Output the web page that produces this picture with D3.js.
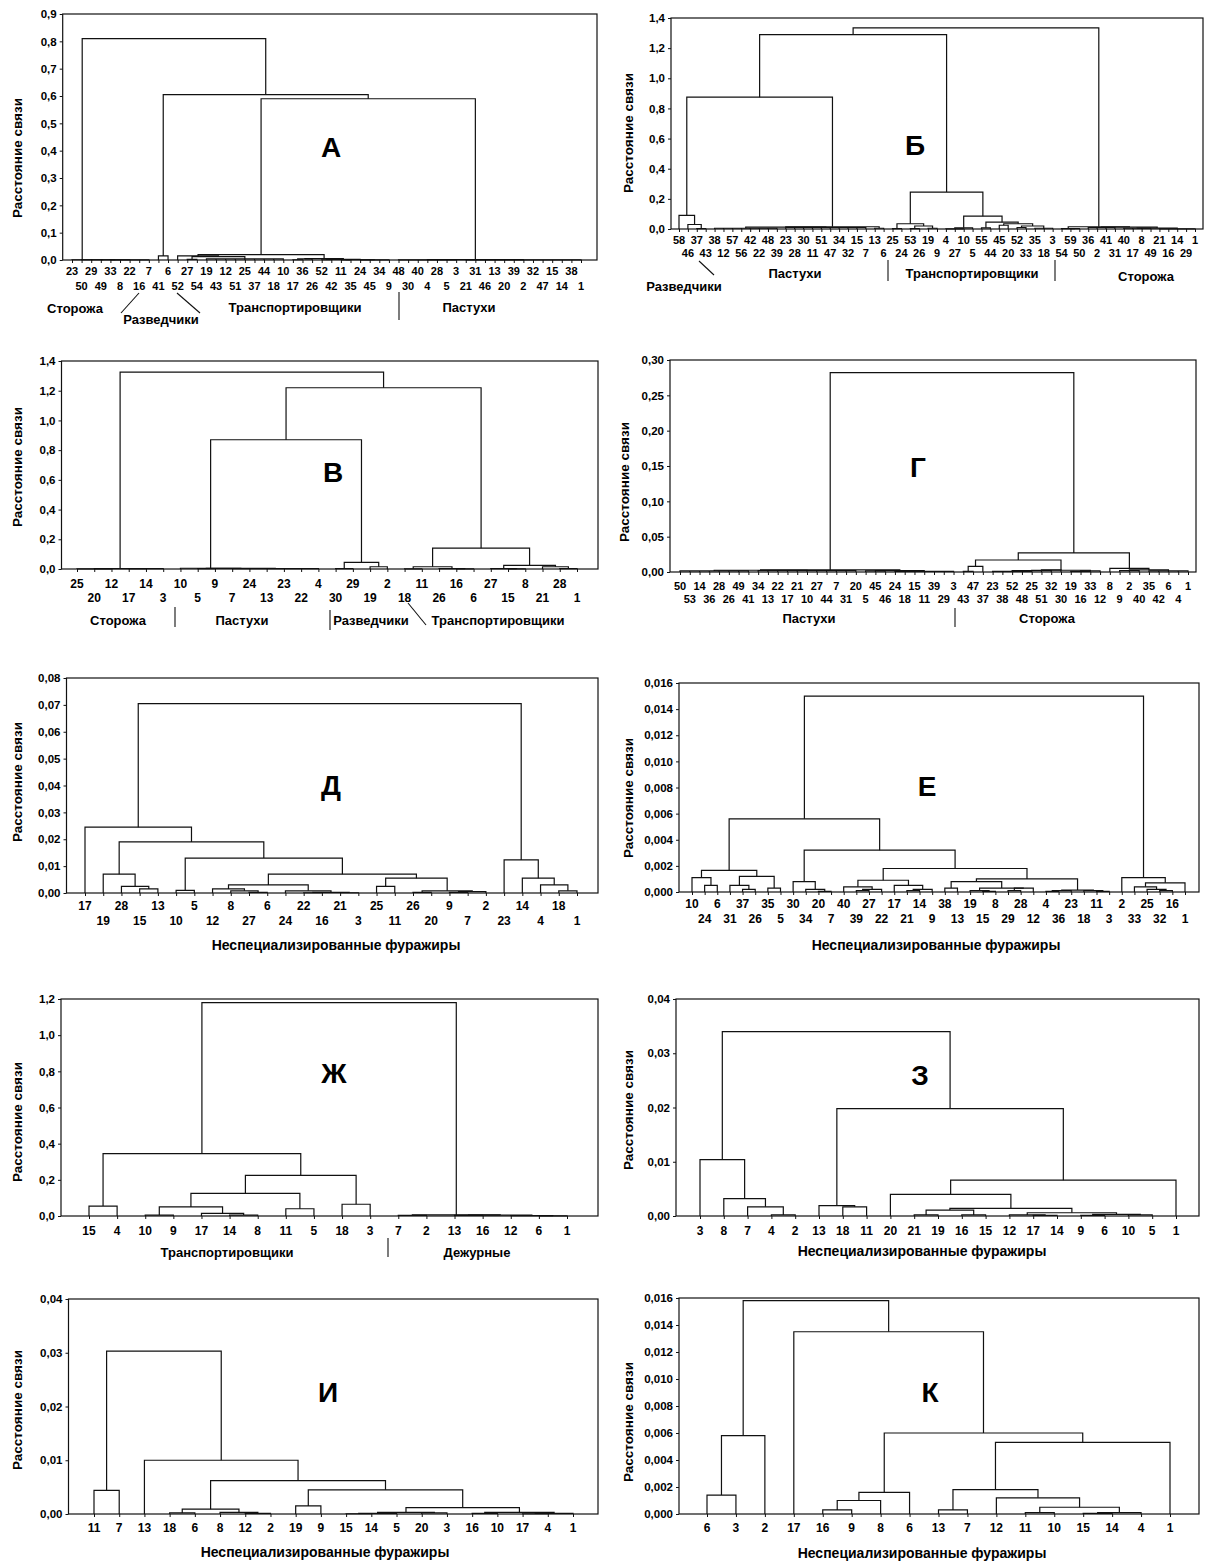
<!DOCTYPE html>
<html>
<head>
<meta charset="utf-8">
<script src="https://cdn.jsdelivr.net/npm/d3@7"></script>
<style>
  body { margin: 0; background: #fff; }
  svg { display: block; font-family: "Liberation Sans", Arial, sans-serif; font-weight: bold; }
</style>
</head>
<body>
<div id="chart"></div>
<script>
// leaf order (as printed under each dendrogram)
const leavesA = [23,50,29,49,33,8,22,16,7,41,6,52,27,54,19,43,12,51,25,37,44,18,10,17,36,26,52,42,11,35,24,45,34,9,48,30,40,4,28,5,3,21,31,46,13,20,39,2,32,47,15,14,38,1];
const leavesB = [58,46,37,43,38,12,57,56,42,22,48,39,23,28,30,11,51,47,34,32,15,7,13,6,25,24,53,26,19,9,4,27,10,5,55,44,45,20,52,33,35,18,3,54,59,50,36,2,41,31,40,17,8,49,21,16,14,29,1];
const leavesV = [25,20,12,17,14,3,10,5,9,7,24,13,23,22,4,30,29,19,2,18,11,26,16,6,27,15,8,21,28,1];
const leavesG = [50,53,14,36,28,26,49,41,34,13,22,17,21,10,27,44,7,31,20,5,45,46,24,18,15,11,39,29,3,43,47,37,23,38,52,48,25,51,32,30,19,16,33,12,8,9,2,40,35,42,6,4,1];
const leavesD = [17,19,28,15,13,10,5,12,8,27,6,24,22,16,21,3,25,11,26,20,9,7,2,23,14,4,18,1];
const leavesE = [10,24,6,31,37,26,35,5,30,34,20,7,40,39,27,22,17,21,14,9,38,13,19,15,8,29,28,12,4,36,23,18,11,3,2,33,25,32,16,1];
const leavesZh = [15,4,10,9,17,14,8,11,5,18,3,7,2,13,16,12,6,1];
const leavesZ = [3,8,7,4,2,13,18,11,20,21,19,16,15,12,17,14,9,6,10,5,1];
const leavesI = [11,7,13,18,6,8,12,2,19,9,15,14,5,20,3,16,10,17,4,1];
const leavesK = [6,3,2,17,16,9,8,6,13,7,12,11,10,15,14,4,1];

// merge trees: [linkage distance, child, child, ...]; bare numbers are leaves
const treeA = [0.81,
  [0.001, 23, [0.001, 50, [0.001, 29, [0.001, 49, [0.0005, 33, 8, 22, 16, 7]]]]],
  [0.605,
    [0.015, 41, 6],
    [0.59,
      [0.02,
        [0.015, 52, [0.012, [0.002, 27, 54], [0.004, 19, 43, 12, 51, 25, 37, 44, 18, 10]]],
        [0.005, [0.004, [0.001, 17, 36], 26], [0.002, [0.001, 52, 42], [0.001, [0.0005, 11, 35], [0.0005, 24, 45, 34, 9]]]]],
      [0.0015, [0.0005, 48, 30, 40, 4, 28, 5, 3], [0.0005, 21, 31, 46, 13, 20, 39, 2, 32, 47, 15, 14, 38, 1]]]]];

const treeB = [1.335,
  [1.29,
    [0.875,
      [0.09, 58, [0.03, 46, [0.002, 37, 43]]],
      [0.015,
        [0.012, [0.005, 38, 12, 57, 56, 42, 22, 48, 39], [0.01, 23, 28, 30, 11, 51, 47, 34, 32, 15, 7]],
        [0.005, 13, 6]]],
    [0.245,
      [0.035, [0.002, 25, 24], [0.02, [0.002, 53, 26], [0.005, 19, 9]]],
      [0.085,
        [0.008, [0.001, 4, 27, 10], 5],
        [0.045, [0.008, 55, 44], [0.035, [0.025, 45, 20], [0.02, [0.01, 52, 33], [0.005, 35, 18, 3]]]]]]],
  [0.015,
    [0.003, 54, [0.002, 59, 50]],
    [0.012, [0.01, 36, 2, 41, 31], [0.006, [0.005, 40, 17, 8, 49], [0.001, 21, 16, 14, 29, 1]]]]];

const treeV = [1.325,
  [0.003, [0.001, 25, 20, 12], [0.002, 17, 14, 3]],
  [1.22,
    [0.87,
      [0.005, 10, [0.004, [0.003, 5, 9], [0.002, 7, 24, 13, 23, 22, 4]]],
      [0.045, [0.003, 30, 29], [0.015, 19, 2]]],
    [0.14,
      [0.015, [0.001, 18, 11], [0.003, 26, [0.001, 16, 6]]],
      [0.025, [0.003, 27, [0.001, 15, 8]], [0.015, 21, [0.003, 28, 1]]]]]];

const treeG = [0.282,
  [0.003,
    [0.0025, [0.0015, 50, 53, 14, 36, 28, 26, 49, 41], [0.002, 34, 13, 22, 17, 21, 10, 27, 44, 7, 31, 20]],
    [0.002, [0.0015, 5, 45, 46], [0.001, 24, 18, 15, 11, 39, 29, 3]]],
  [0.027,
    [0.017,
      [0.008, [0.001, 43, 47], 37],
      [0.0025,
        [0.002, [0.001, 23, 38, 52, 48, 25], [0.003, 51, 32, 30]],
        [0.0015, [0.001, 19, 16, 33], 12]]],
    [0.005, 8, [0.003, [0.002, 9, 2, 40], [0.0015, 35, 42, 6, 4, 1]]]]];

const treeD = [0.0705,
  [0.0245, 17,
    [0.019,
      [0.007, 19, [0.0025, 28, [0.0015, 15, 13]]],
      [0.013,
        [0.001, 10, 5],
        [0.007,
          [0.003,
            [0.0015, 12, [0.0008, 8, [0.0002, 27, 6]]],
            [0.0008, 24, [0.0002, [0.0001, 22, 16], [0.0001, 21, 3]]]],
          [0.0055,
            [0.0025, 25, 11],
            [0.0008, [0.0002, 26, 20], [0.0005, [0.0002, 9, 7], 2]]]]]]],
  [0.0123, 23, [0.0055, 14, [0.003, 4, [0.0008, 18, 1]]]]];

const treeE = [0.015,
  [0.0056,
    [0.00165,
      [0.0011, 10, [0.0005, 24, 6]],
      [0.0012, [0.0005, 31, [0.0002, 37, 26]], [0.0003, 35, 5]]],
    [0.0032,
      [0.0008, 30, [0.0002, 34, [0.00005, 20, 7]]],
      [0.0018,
        [0.0009,
          [0.0004, 40, [0.0002, [0.0001, 39, 27], 22]],
          [0.0005, 17, [0.0002, [0.0001, 21, 14], 9]]],
        [0.001,
          [0.0008,
            [0.0003, 38, 13],
            [0.0003, [0.0001, 19, [0.00005, 15, 8]], [0.0003, [0.0001, 29, 28], 12]]],
          [0.00015, [0.0001, [0.00005, 4, 36], 23], [0.0001, 18, [0.00005, 11, 3]]]]]]],
  [0.0011, 2, [0.0007, [0.0004, 33, [0.0002, 25, [0.0001, 32, 16]]], 1]]];

const treeZh = [1.18,
  [0.345,
    [0.055, 15, 4],
    [0.225,
      [0.125,
        [0.05, [0.005, 10, 9], [0.015, 17, [0.005, 14, 8]]],
        [0.04, 11, 5]],
      [0.065, 18, 3]]],
  [0.006, [0.003, 7, 2], [0.005, [0.003, 13, 16], [0.002, 12, [0.001, 6, 1]]]]];

const treeZ = [0.034,
  [0.0104, 3, [0.0032, 8, [0.0017, 7, [0.0002, 4, 2]]]],
  [0.0198,
    [0.0019, 13, [0.0017, 18, 11]],
    [0.0066,
      [0.004, 20,
        [0.0014,
          [0.0011, [0.0002, 21, 19], [0.0002, 16, 15]],
          [0.0006, [0.0002, 12, [0.0001, 17, 14]], [0.0003, [0.0001, 9, 6], [0.0002, 10, 5]]]]],
      1]]];

const treeI = [0.0303,
  [0.0044, 11, 7],
  [0.01, 13,
    [0.0062,
      [0.0009, [0.0002, 18, 6], [0.0003, 8, [0.0001, 12, 2]]],
      [0.0045,
        [0.0015, 19, 9],
        [0.0012,
          [0.0003, [0.0001, [0.00005, 15, 14], 5], [0.0002, 20, 3]],
          [0.0003, [0.0001, 16, 10], [0.0001, [0.00005, 17, 4], 1]]]]]]];

const treeK = [0.0158,
  [0.0058, [0.0014, 6, 3], 2],
  [0.0135, 17,
    [0.006,
      [0.0016, [0.001, [0.0003, 16, 9], 8], 6],
      [0.0053,
        [0.0018, [0.0003, 13, 7], [0.0012, 12, [0.0005, [0.0001, 11, 10], [0.0001, [0.00005, 15, 14], 4]]]],
        1]]]];

// y tick values
const ticksA = [0, 0.1, 0.2, 0.3, 0.4, 0.5, 0.6, 0.7, 0.8, 0.9];
const ticksB = [0, 0.2, 0.4, 0.6, 0.8, 1.0, 1.2, 1.4];
const ticksV = [0, 0.2, 0.4, 0.6, 0.8, 1.0, 1.2, 1.4];
const ticksG = [0, 0.05, 0.10, 0.15, 0.20, 0.25, 0.30];
const ticksD = [0, 0.01, 0.02, 0.03, 0.04, 0.05, 0.06, 0.07, 0.08];
const ticksE = [0, 0.002, 0.004, 0.006, 0.008, 0.010, 0.012, 0.014, 0.016];
const ticksZh = [0, 0.2, 0.4, 0.6, 0.8, 1.0, 1.2];
const ticksZ = [0, 0.01, 0.02, 0.03, 0.04];
const ticksI = [0, 0.01, 0.02, 0.03, 0.04];
const ticksK = [0, 0.002, 0.004, 0.006, 0.008, 0.010, 0.012, 0.014, 0.016];

const yTitle = 'Расстояние связи';
const xTitle = 'Неспециализированные фуражиры';

const panels = [
  { letter: 'А', tree: treeA, leaves: leavesA, ticks: ticksA, digits: 1,
    frame: [62.7, 597, 14, 260], leafX: [72, 581], rows: [271, 286], leafFont: 11,
    letterPos: [331, 147], titlePos: [17, 158],
    groups: [['Сторожа', 75, 308], ['Разведчики', 161, 319], ['Транспортировщики', 295, 307], ['Пастухи', 469, 307]],
    marks: [[399, 292, 399, 320], [121, 313, 139, 293], [200, 313, 177, 293]] },
  { letter: 'Б', tree: treeB, leaves: leavesB, ticks: ticksB, digits: 1,
    frame: [671, 1203, 18, 229], leafX: [679, 1195], rows: [240, 253], leafFont: 11,
    letterPos: [915, 145], titlePos: [628, 133],
    groups: [['Разведчики', 684, 286], ['Пастухи', 795, 273], ['Транспортировщики', 972, 273], ['Сторожа', 1146, 276]],
    marks: [[888, 260, 888, 281], [1055, 260, 1055, 281], [699, 261, 714, 275]] },
  { letter: 'В', tree: treeV, leaves: leavesV, ticks: ticksV, digits: 1,
    frame: [61.5, 598, 361, 569], leafX: [77, 577], rows: [584, 598], leafFont: 12,
    letterPos: [333, 472], titlePos: [17, 467],
    groups: [['Сторожа', 118, 620], ['Пастухи', 242, 620], ['Разведчики', 371, 620], ['Транспортировщики', 498, 620]],
    marks: [[175, 607, 175, 627], [330, 610, 330, 630], [408, 603, 426, 625]] },
  { letter: 'Г', tree: treeG, leaves: leavesG, ticks: ticksG, digits: 2,
    frame: [670, 1196, 360, 572], leafX: [680, 1188], rows: [586, 599], leafFont: 11,
    letterPos: [918, 467], titlePos: [624, 482],
    groups: [['Пастухи', 809, 618], ['Сторожа', 1047, 618]],
    marks: [[955, 608, 955, 627]] },
  { letter: 'Д', tree: treeD, leaves: leavesD, ticks: ticksD, digits: 2,
    frame: [66.5, 598, 678, 893], leafX: [85, 577], rows: [906, 921], leafFont: 12,
    letterPos: [331, 785], titlePos: [17, 782], xTitlePos: [336, 945], groups: [], marks: [] },
  { letter: 'Е', tree: treeE, leaves: leavesE, ticks: ticksE, digits: 3,
    frame: [679, 1199, 683, 892], leafX: [692, 1185], rows: [904, 919], leafFont: 12,
    letterPos: [927, 786], titlePos: [628, 798], xTitlePos: [936, 945], groups: [], marks: [] },
  { letter: 'Ж', tree: treeZh, leaves: leavesZh, ticks: ticksZh, digits: 1,
    frame: [61, 598, 999, 1216], leafX: [89, 567], rows: [1231], leafFont: 12,
    letterPos: [334, 1073], titlePos: [17, 1122],
    groups: [['Транспортировщики', 227, 1252], ['Дежурные', 477, 1252]],
    marks: [[388, 1238, 388, 1257]] },
  { letter: 'З', tree: treeZ, leaves: leavesZ, ticks: ticksZ, digits: 2,
    frame: [676, 1199, 999, 1216], leafX: [700, 1176], rows: [1231], leafFont: 12,
    letterPos: [920, 1075], titlePos: [628, 1110], xTitlePos: [922, 1251], groups: [], marks: [] },
  { letter: 'И', tree: treeI, leaves: leavesI, ticks: ticksI, digits: 2,
    frame: [68.5, 598, 1299, 1514], leafX: [94, 573], rows: [1528], leafFont: 12,
    letterPos: [328, 1392], titlePos: [17, 1410], xTitlePos: [325, 1552], groups: [], marks: [] },
  { letter: 'К', tree: treeK, leaves: leavesK, ticks: ticksK, digits: 3,
    frame: [679, 1199, 1298, 1514], leafX: [707, 1170], rows: [1528], leafFont: 12,
    letterPos: [930, 1392], titlePos: [628, 1422], xTitlePos: [922, 1553], groups: [], marks: [] }
];

const ruLocale = d3.formatLocale({ decimal: ',', thousands: ' ', grouping: [3], currency: ['', ''] });
const ink = '#111';

const svg = d3.select('#chart').append('svg')
  .attr('width', 1209)
  .attr('height', 1562)
  .attr('viewBox', '0 0 1209 1562');

function build(node) {
  if (!Array.isArray(node)) return { label: node };
  const [h, ...kids] = node;
  return { h, children: kids.map(build) };
}

panels.forEach((p) => {
  const [fx0, fx1, fy0, fy1] = p.frame;
  const g = svg.append('g');

  const y = d3.scaleLinear().domain([0, p.ticks[p.ticks.length - 1]]).range([fy1, fy0]);
  const x = d3.scalePoint().domain(d3.range(p.leaves.length)).range(p.leafX);

  const root = d3.hierarchy(build(p.tree));
  root.leaves().forEach((d, i) => { d.x = x(i); d.y = y(0); });
  root.eachAfter((d) => {
    if (d.children) {
      d.x = (d.children[0].x + d.children[d.children.length - 1].x) / 2;
      d.y = y(d.data.h);
    }
  });

  // frame
  g.append('rect')
    .attr('x', fx0).attr('y', fy0)
    .attr('width', fx1 - fx0).attr('height', fy1 - fy0)
    .attr('fill', 'none').attr('stroke', ink).attr('stroke-width', 1.2);

  // dendrogram links
  const links = [];
  root.each((d) => {
    if (!d.children) return;
    const first = d.children[0];
    const last = d.children[d.children.length - 1];
    let path = `M${first.x},${first.y}V${d.y}H${last.x}V${last.y}`;
    d.children.slice(1, -1).forEach((c) => { path += `M${c.x},${c.y}V${d.y}`; });
    links.push(path);
  });
  g.append('g').selectAll('path')
    .data(links)
    .join('path')
    .attr('d', (d) => d)
    .attr('fill', 'none')
    .attr('stroke', ink)
    .attr('stroke-width', 1.2);

  // y axis
  const yAxis = g.append('g')
    .attr('transform', `translate(${fx0},0)`)
    .call(d3.axisLeft(y).tickValues(p.ticks).tickFormat(ruLocale.format(`.${p.digits}f`)).tickSize(3).tickPadding(3));
  yAxis.select('.domain').remove();
  yAxis.selectAll('line').attr('stroke', ink);
  yAxis.selectAll('text')
    .attr('font-family', '"Liberation Sans", Arial, sans-serif')
    .attr('font-weight', 'bold')
    .attr('font-size', 11.5)
    .attr('fill', '#000');

  // x axis: ticks at every leaf
  const xAxis = g.append('g')
    .attr('transform', `translate(0,${fy1})`)
    .call(d3.axisBottom(x).tickSize(3).tickFormat(''));
  xAxis.select('.domain').remove();
  xAxis.selectAll('line').attr('stroke', ink);

  // leaf labels, alternating rows where the axis is crowded
  g.append('g').selectAll('text')
    .data(p.leaves)
    .join('text')
    .attr('x', (d, i) => x(i))
    .attr('y', (d, i) => p.rows[i % p.rows.length])
    .attr('dy', '0.36em')
    .attr('text-anchor', 'middle')
    .attr('font-size', p.leafFont)
    .text((d) => d);

  // axis title
  g.append('text')
    .attr('transform', `translate(${p.titlePos[0]},${p.titlePos[1]}) rotate(-90)`)
    .attr('dy', '0.36em')
    .attr('text-anchor', 'middle')
    .attr('font-size', 13.5)
    .text(yTitle);

  if (p.xTitlePos) {
    g.append('text')
      .attr('x', p.xTitlePos[0]).attr('y', p.xTitlePos[1])
      .attr('dy', '0.36em')
      .attr('text-anchor', 'middle')
      .attr('font-size', 14)
      .text(xTitle);
  }

  // panel letter
  g.append('text')
    .attr('x', p.letterPos[0]).attr('y', p.letterPos[1])
    .attr('dy', '0.36em')
    .attr('text-anchor', 'middle')
    .attr('font-size', 28)
    .text(p.letter);

  // caste groups under the axis
  g.append('g').selectAll('text')
    .data(p.groups)
    .join('text')
    .attr('x', (d) => d[1]).attr('y', (d) => d[2])
    .attr('dy', '0.36em')
    .attr('text-anchor', 'middle')
    .attr('font-size', 13)
    .text((d) => d[0]);

  g.append('g').selectAll('line')
    .data(p.marks)
    .join('line')
    .attr('x1', (d) => d[0]).attr('y1', (d) => d[1])
    .attr('x2', (d) => d[2]).attr('y2', (d) => d[3])
    .attr('stroke', ink)
    .attr('stroke-width', 1.1);
});
</script>
</body>
</html>
